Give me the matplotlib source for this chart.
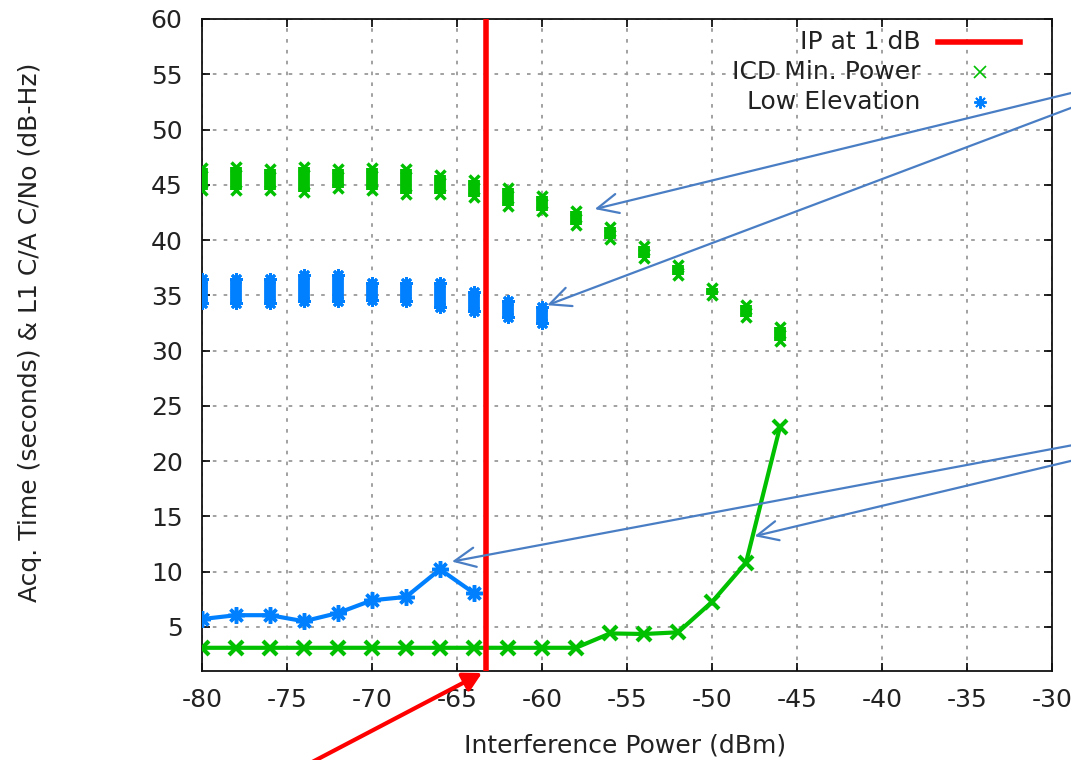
import matplotlib
matplotlib.use("Agg")
import matplotlib.pyplot as plt
from matplotlib.lines import Line2D

plt.rcParams['font.family'] = ['DejaVu Sans']
plt.rcParams['axes.unicode_minus'] = False

# ---- data ----
# Acquisition time lines
icd_x = [-80, -78, -76, -74, -72, -70, -68, -66, -64, -62, -60, -58, -56, -54, -52, -50, -48, -46]
icd_time = [3.1, 3.1, 3.1, 3.1, 3.1, 3.1, 3.1, 3.1, 3.1, 3.1, 3.1, 3.1, 4.4, 4.35, 4.5, 7.25, 10.8, 23.1]

low_x = [-80, -78, -76, -74, -72, -70, -68, -66, -64]
low_time = [5.7, 6.05, 6.05, 5.5, 6.25, 7.4, 7.7, 10.2, 8.05]

# C/No spread (min / max) per interference level
icd_cn0_lo = [44.5, 44.5, 44.5, 44.3, 44.7, 44.5, 44.2, 44.2, 43.9, 43.1, 42.6, 41.4, 40.1, 38.4, 36.8, 35.0, 33.0, 30.9]
icd_cn0_hi = [46.5, 46.6, 46.4, 46.6, 46.4, 46.5, 46.4, 45.9, 45.4, 44.7, 44.0, 42.6, 41.2, 39.5, 37.7, 35.7, 34.1, 32.1]

low_cn0_x = [-80, -78, -76, -74, -72, -70, -68, -66, -64, -62, -60]
low_cn0_lo = [34.3, 34.3, 34.3, 34.45, 34.45, 34.55, 34.45, 33.9, 33.6, 33.0, 32.5]
low_cn0_hi = [36.5, 36.5, 36.5, 36.8, 36.8, 36.1, 36.1, 36.1, 35.3, 34.45, 33.9]

ip_1db = -63.3

x_ticks = [-80, -75, -70, -65, -60, -55, -50, -45, -40, -35, -30]
y_ticks = [5, 10, 15, 20, 25, 30, 35, 40, 45, 50, 55, 60]

GREEN = '#00C000'
BLUE = '#0080FF'
ARROW_BLUE = '#4A7EC4'
TXT = '#222222'
FS = 18

fig = plt.figure(figsize=(10.71, 7.6), dpi=100)
ax = fig.add_axes([202/1071, 1-671/760, 850/1071, 652/760])

ax.set_xlim(-80, -30)
ax.set_ylim(1, 60)
ax.set_xticks(x_ticks)
ax.set_yticks(y_ticks)
ax.grid(True, color='#9a9a9a', linestyle=(0, (2, 4)), linewidth=1.3)
ax.set_axisbelow(True)
ax.tick_params(direction='in', length=6, width=1.2, top=True, right=True,
               labelsize=FS, labelcolor=TXT)
ax.tick_params(axis='x', pad=12)
ax.tick_params(axis='y', pad=14)
for s in ax.spines.values():
    s.set_linewidth(1.3)
    s.set_color('#111111')

# C/No columns
ax.vlines(icd_x, icd_cn0_lo, icd_cn0_hi, color=GREEN, linewidth=8.5, zorder=3)
ax.plot(icd_x + icd_x, icd_cn0_lo + icd_cn0_hi, linestyle='none', marker='x',
        markersize=7.5, markeredgewidth=2.5, color=GREEN, zorder=3)
ax.vlines(low_cn0_x, low_cn0_lo, low_cn0_hi, color=BLUE, linewidth=8.5, zorder=3)
ax.plot(low_cn0_x + low_cn0_x, low_cn0_lo + low_cn0_hi, linestyle='none', marker=(8, 2, 0),
        markersize=9, markeredgewidth=2.0, color=BLUE, zorder=3)

# acquisition time lines
ax.plot(icd_x, icd_time, color=GREEN, linewidth=3, marker='x', markersize=10,
        markeredgewidth=3, zorder=4)
ax.plot(low_x, low_time, color=BLUE, linewidth=3, marker=(8, 2, 0), markersize=12,
        markeredgewidth=2.5, zorder=4)

# IP at 1 dB
ax.axvline(ip_1db, color='#FF0000', linewidth=4, zorder=5)

# legend (gnuplot style, text right-aligned)
leg_rows = [0.965, 0.919, 0.873]
ax.text(0.845, leg_rows[0], 'IP at 1 dB', transform=ax.transAxes, ha='right', va='center',
        fontsize=FS, color=TXT)
ax.add_line(Line2D([0.866, 0.962], [leg_rows[0]]*2, transform=ax.transAxes,
                   color='#FF0000', linewidth=4))
ax.text(0.845, leg_rows[1], 'ICD Min. Power', transform=ax.transAxes, ha='right', va='center',
        fontsize=FS, color=TXT)
ax.plot([0.915], [leg_rows[1]], transform=ax.transAxes, marker='x', markersize=8,
        markeredgewidth=1.2, color=GREEN, linestyle='none')
ax.text(0.845, leg_rows[2], 'Low Elevation', transform=ax.transAxes, ha='right', va='center',
        fontsize=FS, color=TXT)
ax.plot([0.915], [leg_rows[2]], transform=ax.transAxes, marker=(8, 2, 0), markersize=9,
        markeredgewidth=1.4, color=BLUE, linestyle='none')

ax.set_xlabel('Interference Power (dBm)', fontsize=FS, color=TXT, va='center')
ax.xaxis.set_label_coords(0.498, -0.115)
ax.set_ylabel('Acq. Time (seconds) & L1 C/A C/No (dB-Hz)', fontsize=FS, color=TXT, va='center')
ax.yaxis.set_label_coords(-0.2024, 0.52)

# annotation arrows (targets in data coords, tails off the right edge in figure pixels)
arrow_targets = [(-56.9, 42.8), (-59.7, 34.1), (-65.3, 10.9), (-47.5, 13.2)]
arrow_tails = [(1100, 674), (1100, 663), (1100, 320), (1100, 306)]
for tgt, tail in zip(arrow_targets, arrow_tails):
    ax.annotate('', xy=tgt, xycoords='data', xytext=tail, textcoords='figure pixels',
                arrowprops=dict(arrowstyle='->,head_length=0.75,head_width=0.35',
                                color=ARROW_BLUE, lw=1.6, mutation_scale=20,
                                shrinkA=0, shrinkB=0),
                annotation_clip=False, zorder=6)

# red arrow pointing at IP on the axis
ax.annotate('', xy=(482, 87), xycoords='figure pixels', xytext=(297, -10),
            textcoords='figure pixels',
            arrowprops=dict(arrowstyle='-|>,head_length=0.55,head_width=0.3',
                            color='#FF0000', lw=3, mutation_scale=20,
                            shrinkA=0, shrinkB=0),
            annotation_clip=False)

fig.savefig('out.png', dpi=100)
